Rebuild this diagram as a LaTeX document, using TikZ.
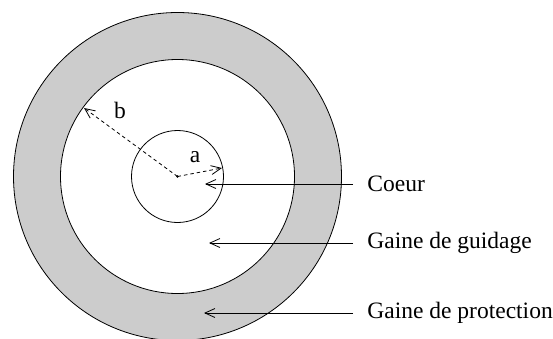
\documentclass[tikz,border=0pt]{standalone}
\usepackage{fontspec}
\setmainfont{Liberation Serif}
\usetikzlibrary{arrows.meta}
\begin{document}
\begin{tikzpicture}[x=1pt,y=-1pt,line width=0.8pt,
  ring/.style={circle,draw,inner sep=0pt},
  lbl/.style={inner sep=0pt,font=\fontsize{23.5}{27}\selectfont},
  tip/.style={-{Straight Barb[length=10pt,width=9pt,line width=0.8pt]}},
  radius/.style={tip,dash pattern=on 3.5pt off 3pt}]
\useasboundingbox (0,0) rectangle (553,338);
\coordinate (O) at (177.5,176.5);
\node[ring,fill=black!20,minimum size=328pt] (outer) at (O) {};
\node[ring,fill=white,minimum size=234pt] (middle) at (O) {};
\node[ring,minimum size=92pt] (inner) at (O) {};
\fill (O) circle (1.3pt);
\coordinate (bEnd) at (84,108);
\coordinate (aEnd) at (222,168);
\draw[radius] (O) -- (bEnd);
\draw[radius] (O) -- (aEnd);
\node[lbl] (b) at (120,110) {b};
\node[lbl] (a) at (195,157) {a};
\node[lbl,anchor=west] (coeur) at (367,184) {Coeur};
\node[lbl,anchor=west] (guid) at (367,243) {Gaine de guidage};
\node[lbl,anchor=west] (prot) at (367,313) {Gaine de protection};
\coordinate (c1) at (205,184);
\coordinate (c2) at (209,243);
\coordinate (c3) at (204,313);
\draw[tip] ([xshift=-14pt]coeur.west) -- (c1);
\draw[tip] ([xshift=-14pt]guid.west) -- (c2);
\draw[tip] ([xshift=-14pt]prot.west) -- (c3);
\end{tikzpicture}
\end{document}
